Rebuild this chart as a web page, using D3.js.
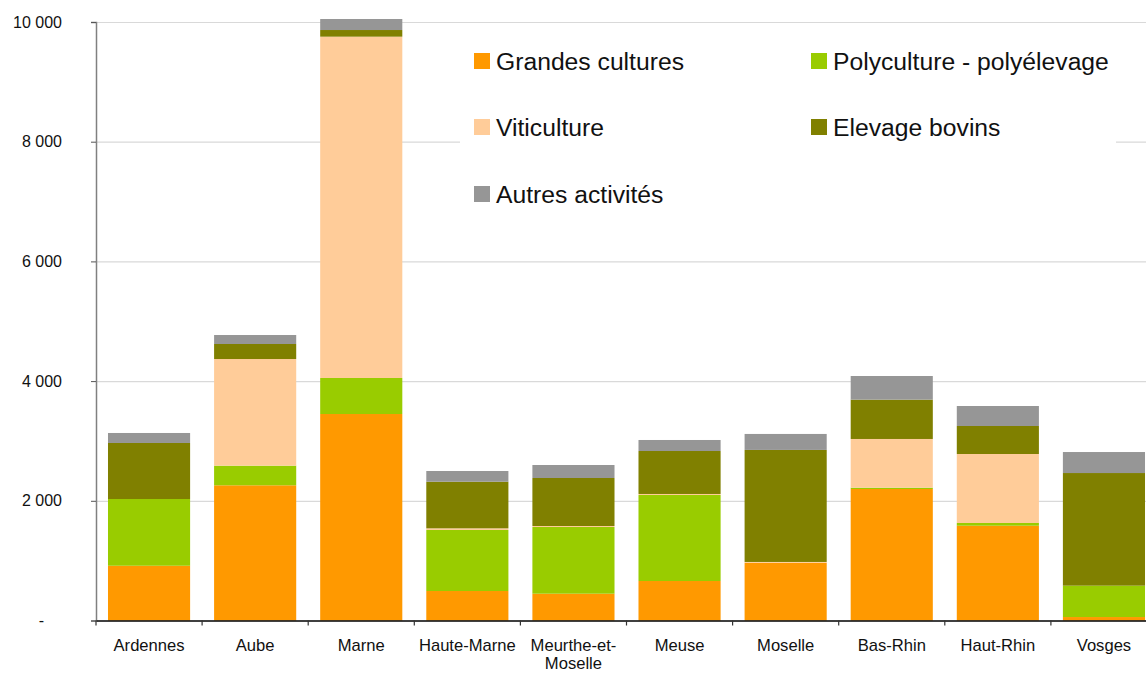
<!DOCTYPE html>
<html>
<head>
<meta charset="utf-8">
<script src="https://cdn.jsdelivr.net/npm/d3@7"></script>
<style>
  body { margin: 0; background: #fff; }
  text { font-family: "Liberation Sans", Arial, sans-serif; }
</style>
</head>
<body>
<svg id="chart" width="1146" height="673"></svg>
<script>
// categories
var departements = ["Ardennes", "Aube", "Marne", "Haute-Marne", "Meurthe-et-Moselle",
    "Meuse", "Moselle", "Bas-Rhin", "Haut-Rhin", "Vosges"];
// series values
var grandesCultures = [915, 2259, 3450, 493, 448, 660, 966, 2197, 1584, 58];
var polyculture     = [1115, 328, 602, 1019, 1114, 1437, 0, 22, 45, 524];
var viticulture     = [0, 1782, 5703, 28, 17, 17, 12, 814, 1153, 0];
var elevageBovins   = [936, 251, 111, 779, 802, 718, 1872, 657, 468, 1882];
var autres          = [167, 150, 184, 179, 217, 184, 267, 395, 334, 351];
var seriesNames = ["Grandes cultures", "Polyculture - polyélevage", "Viticulture", "Elevage bovins", "Autres activités"];
var seriesColors = ["#ff9900", "#99cc00", "#ffcc99", "#808000", "#969696"];
var yTicks = [0, 2000, 4000, 6000, 8000, 10000];

chart()

function chart() {
    var svg = d3.select("#chart")
    var left = 96, right = 1157, top = 22, bottom = 620.5;

    var allSeries = [grandesCultures, polyculture, viticulture, elevageBovins, autres];
    //build table for the stack
    var table = departements.map(function(d, i) {
        var row = { dep: d };
        seriesNames.forEach(function(s, j) { row[s] = allSeries[j][i]; });
        return row;
    });
    var stacked = d3.stack().keys(seriesNames)(table);

    var x = d3.scaleBand()
        .domain(departements)
        .range([left, right])
        .paddingInner(0.226)
        .paddingOuter(0.113);

    var y = d3.scaleLinear()
        .domain([0, 10000])
        .range([bottom, top]);

    //gridlines
    svg.append("g")
        .attr("transform", "translate(" + left + ",0)")
        .call(d3.axisLeft(y).tickValues(yTicks.slice(1)).tickSize(-(1146 - left)).tickFormat(""))
        .call(function(g) { g.select(".domain").remove(); })
        .selectAll("line")
        .attr("stroke", "#d9d9d9")
        .attr("stroke-width", 1.2);

    //bars
    svg.append("g")
        .selectAll("g")
        .data(stacked)
        .enter()
        .append("g")
        .attr("fill", function(d, i) { return seriesColors[i]; })
        .selectAll("rect")
        .data(function(d) { return d; })
        .enter()
        .append("rect")
        .attr("x", function(d) { return x(d.data.dep); })
        .attr("y", function(d) { return y(d[1]); })
        .attr("width", x.bandwidth())
        .attr("height", function(d) { return y(d[0]) - y(d[1]); });

    //legend box hides the gridline behind it
    var legend = svg.append("g");
    legend.append("rect")
        .attr("x", 460).attr("y", 30)
        .attr("width", 656).attr("height", 190)
        .attr("fill", "#fff");
    var legendPos = [[474, 61], [811, 61], [474, 127], [811, 127], [474, 194]];
    seriesNames.forEach(function(s, i) {
        var g = legend.append("g").attr("transform", "translate(" + legendPos[i][0] + "," + legendPos[i][1] + ")");
        g.append("rect").attr("x", 0).attr("y", -8).attr("width", 16).attr("height", 16).attr("fill", seriesColors[i]);
        g.append("text").attr("x", 22).attr("y", 8.5).style("font-size", "24.7px").attr("fill", "#111").text(s);
    });

    //y axis
    var yAxis = svg.append("g")
        .attr("transform", "translate(" + left + ",0)")
        .call(d3.axisLeft(y).tickValues(yTicks).tickSize(5).tickPadding(29)
            .tickFormat(function(d) { return d === 0 ? "-" : d3.format(",")(d).replace(/,/g, " "); }));
    yAxis.select(".domain").attr("stroke", "#808080").attr("stroke-width", 1.5);
    yAxis.selectAll(".tick line").attr("stroke", "#555");
    yAxis.selectAll("text").style("font-size", "16px").attr("fill", "#111");
    yAxis.selectAll(".tick").filter(function(d) { return d === 0; }).select("text").attr("dx", -18);

    //x axis
    var xAxis = svg.append("g")
        .attr("transform", "translate(0," + bottom + ")")
        .call(d3.axisBottom(x).tickSize(0).tickPadding(18.5));
    xAxis.select(".domain").attr("stroke", "#000").attr("stroke-width", 1.5);
    xAxis.selectAll("text").style("font-size", "16.6px").attr("fill", "#111")
        .each(function(d) {
            if (d === "Meurthe-et-Moselle") {
                var t = d3.select(this).text("");
                t.append("tspan").attr("x", 0).attr("dy", "0.71em").text("Meurthe-et-");
                t.append("tspan").attr("x", 0).attr("dy", "1.08em").text("Moselle");
            }
        });
    //separators between categories
    var xEdges = departements.map(function(d) { return x(d) - x.step() * x.paddingOuter(); });
    xAxis.selectAll(".sep")
        .data(xEdges)
        .enter()
        .append("line")
        .attr("class", "sep")
        .attr("x1", function(d) { return d; })
        .attr("x2", function(d) { return d; })
        .attr("y1", 0).attr("y2", 5)
        .attr("stroke", "#333")
        .attr("stroke-width", 1.2);
}
</script>
</body>
</html>
